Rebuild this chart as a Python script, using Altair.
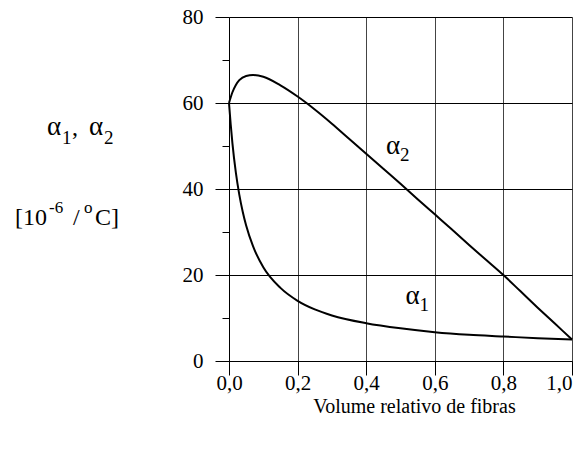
import altair as alt
import pandas as pd

FONT = "Liberation Serif"

# fibre volume fraction and alpha_1 (longitudinal)
vf1 = [0.0, 0.005, 0.01, 0.02, 0.03, 0.04, 0.05, 0.07, 0.1, 0.15, 0.2, 0.25, 0.3, 0.4, 0.5, 0.6, 0.7, 0.8, 0.9, 1.0]
alpha1 = [60, 55, 50.6, 43.8, 38.7, 34.7, 31.5, 26.7, 21.8, 17.0, 14.0, 12.0, 10.6, 8.8, 7.6, 6.7, 6.1, 5.7, 5.3, 5.0]

# fibre volume fraction and alpha_2 (transverse)
vf2 = [0.0, 0.01, 0.02, 0.03, 0.05, 0.07, 0.1, 0.15, 0.2, 0.25, 0.3, 0.35, 0.4, 0.45, 0.5,
       0.55, 0.6, 0.65, 0.7, 0.75, 0.8, 0.85, 0.9, 0.95, 1.0]
alpha2 = [60, 62.5, 64.2, 65.3, 66.3, 66.5, 66.1, 64.1, 61.5, 58.5, 55.2, 51.7, 48.2, 44.7, 41.2,
          37.6, 34.1, 30.6, 27.0, 23.5, 20.0, 16.2, 12.4, 8.7, 5.0]

x_ticks = [i / 10 for i in range(11)]
y_ticks = [0, 10, 20, 30, 40, 50, 60, 70, 80]

# in-plot curve labels
lab_text = ["α", "α"]
lab_sub = ["1", "2"]
lab_x = [0.535, 0.478]
lab_y = [15.2, 50.0]

curves = pd.concat([
    pd.DataFrame({"vf": vf1, "a": alpha1, "s": "alpha1"}),
    pd.DataFrame({"vf": vf2, "a": alpha2, "s": "alpha2"}),
])
labels = pd.DataFrame({"vf": lab_x, "a": lab_y, "t": lab_text, "sub": lab_sub})

x_major = "round(datum.value*10) % 2 === 0"
y_major = "datum.value % 20 === 0"

xenc = alt.X(
    "vf:Q",
    scale=alt.Scale(domain=[0, 1], nice=False, zero=False),
    axis=alt.Axis(
        values=x_ticks,
        labelExpr="round(datum.value*10) % 2 === 0 ? replace(format(datum.value, '.1f'), '.', ',') : ''",
        tickSize={"condition": {"test": x_major, "value": 14}, "value": 7},
        gridOpacity={"condition": {"test": x_major, "value": 1}, "value": 0},
        gridColor="#444444",
        labelFont=FONT,
        labelFontSize=21,
        labelColor="black",
        labelPadding=-3,
        labelAlign={"condition": {"test": "datum.value >= 0.99", "value": "right"}, "value": "center"},
        labelFlush=False,
        labelOverlap=False,
        title="Volume relativo de fibras",
        titleFont=FONT,
        titleFontSize=20,
        titleFontWeight="normal",
        titleColor="black",
        titleX=185,
        titleAlign="center",
        titlePadding=3,
    ),
)
yenc = alt.Y(
    "a:Q",
    scale=alt.Scale(domain=[0, 80], nice=False),
    axis=alt.Axis(
        values=y_ticks,
        labelExpr="datum.value % 20 === 0 ? datum.label : ''",
        tickSize={"condition": {"test": y_major, "value": 14}, "value": 7},
        gridOpacity={"condition": {"test": y_major, "value": 1}, "value": 0},
        gridColor="#000000",
        labelFont=FONT,
        labelFontSize=21,
        labelColor="black",
        labelPadding=12,
        labelFlush=False,
        labelOverlap=False,
        title="",
    ),
)

lines = alt.Chart(curves).mark_line(
    color="black", strokeWidth=2, interpolate="monotone"
).encode(x=xenc, y=yenc, detail="s:N")

lab_main = alt.Chart(labels).mark_text(
    font=FONT, fontSize=27, color="black", align="center", baseline="middle"
).encode(x="vf:Q", y="a:Q", text="t:N")
lab_subs = alt.Chart(labels).mark_text(
    font=FONT, fontSize=19, color="black", align="left", baseline="middle", dx=7, dy=9
).encode(x="vf:Q", y="a:Q", text="sub:N")

anchor = pd.DataFrame({"k": [0]})


def txt(s, x, y, size):
    return alt.Chart(anchor).mark_text(
        text=s, font=FONT, fontSize=size, color="black", align="left", baseline="alphabetic"
    ).encode(x=alt.value(x), y=alt.value(y))


ytitle = [
    txt("α", -182, 118, 27),
    txt("1", -167, 127, 19),
    txt(",", -157, 118, 24),
    txt("α", -140, 118, 27),
    txt("2", -125, 127, 19),
    txt("[10", -214, 208, 24),
    txt("-6", -180, 196, 17),
    txt("/", -156, 208, 24),
    txt("o", -145, 196, 17),
    txt("C]", -134, 208, 24),
]

chart = alt.layer(lines, lab_main, lab_subs, *ytitle).properties(
    width=343,
    height=344,
    autosize=alt.AutoSizeParams(type="none"),
    padding={"left": 221, "top": 9, "right": 7, "bottom": 80},
).configure(font=FONT).configure_view(strokeWidth=0).configure_axis(
    labelFont=FONT,
    titleFont=FONT,
    domainColor="black",
    domainWidth=1,
    tickColor="black",
    tickWidth=1,
    gridWidth=1,
)

chart.save("out.html", embed_options={"renderer": "svg", "actions": False})
